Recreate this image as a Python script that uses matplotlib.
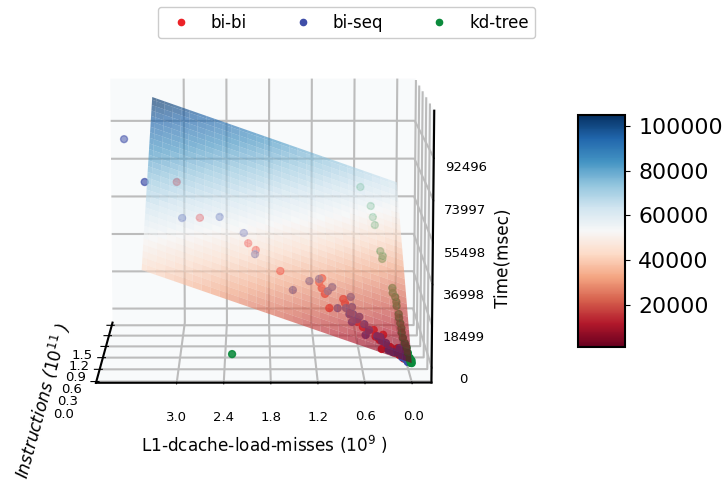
import numpy as np
import matplotlib
matplotlib.use('Agg')
import matplotlib.pyplot as plt
from matplotlib.colors import to_rgba
from matplotlib.lines import Line2D

plt.rcParams['grid.linewidth'] = 1.5
plt.rcParams['grid.color'] = '#bcbcbc'

x_ticks = [0.0, 0.6, 1.2, 1.8, 2.4, 3.0]
y_ticks = [0.0, 0.3, 0.6, 0.9, 1.2, 1.5]
z_ticks = [0, 18499, 36998, 55498, 73997, 92496]
cbar_ticks = [20000, 40000, 60000, 80000, 100000]

# fitted plane: time = c0 + c1 * misses + c2 * instructions
surf_x = [0.0, 3.44]
surf_y = [0.0, 1.55]
plane = [1200.0, 12090.0, 39730.0]

names = ['bi-bi', 'bi-seq', 'kd-tree']
colors = ['#ec2227', '#3f4ea8', '#0b8a3c']

bibi_x = [3.05, 2.73, 2.09, 1.99, 1.67, 1.12, 1.16, 1.13, 1.09, 1.04, 0.85, 0.83, 0.77, 0.61, 0.47, 0.38, 0.35, 0.40,
          0.17, 0.15, 0.27, 0.07, 0.68, 0.55, 0.45, 0.30, 0.22, 0.10]
bibi_y = [0.84, 0.60, 0.52, 0.49, 0.38, 0.44, 0.40, 0.36, 0.32, 0.21, 0.33, 0.30, 0.23, 0.16, 0.16, 0.03, 0.15, 0.10,
          0.08, 0.03, 0.07, 0.02, 0.18, 0.14, 0.12, 0.07, 0.05, 0.02]
bibi_z = [71500, 57900, 47300, 44600, 36600, 32400, 31200, 29100, 27100, 22400, 24600, 23200, 19800, 14700, 13300, 7000,
          11300, 9900, 6500, 4200, 7200, 3000, 16700, 13400, 11000, 6700, 5100, 2900]

biseq_x = [3.78, 3.47, 2.96, 2.47, 2.15, 2.00, 1.51, 1.29, 1.16, 1.05, 0.99, 0.75, 0.93, 0.82, 0.74, 0.78, 0.73, 0.75,
           0.65, 0.68, 0.59, 0.58, 0.53, 0.43, 0.39, 0.37, 0.32, 0.29, 0.24, 0.14, 0.12, 0.06, 0.05, 0.14, 0.18, 0.10,
           0.08, 0.03, 0.02]
biseq_y = [1.06, 0.74, 0.54, 0.67, 0.60, 0.45, 0.26, 0.38, 0.43, 0.35, 0.40, 0.37, 0.24, 0.26, 0.29, 0.22, 0.23, 0.17,
           0.23, 0.20, 0.18, 0.10, 0.15, 0.12, 0.12, 0.10, 0.09, 0.04, 0.04, 0.06, 0.02, 0.01, 0.00, 0.09, 0.05, 0.03,
           0.02, 0.01, 0.00]
biseq_z = [89100, 72700, 58600, 57400, 50900, 43300, 29800, 32000, 32200, 27900, 29000, 24900, 21900, 21600, 21600,
           19500, 19300, 16800, 18100, 17500, 15600, 12100, 13500, 11200, 10800, 9400, 8600, 6300, 5500, 5200, 3500,
           2400, 1700, 6400, 5000, 3600, 2800, 1900, 1500]

kdtree_x = [0.53, 0.40, 0.38, 0.36, 0.31, 0.28, 0.29, 0.18, 0.18, 0.15, 0.14, 0.14, 0.12, 0.12, 0.11, 0.10, 0.10, 0.09,
            0.07, 0.05, 0.04, 0.02, 0.01, 2.30, 0.02, 0.00, 0.01, 0.00]
kdtree_y = [1.38, 1.24, 1.14, 1.07, 0.85, 0.82, 0.79, 0.57, 0.53, 0.50, 0.46, 0.43, 0.37, 0.33, 0.29, 0.25, 0.22, 0.18,
            0.14, 0.11, 0.07, 0.04, 0.00, 0.28, 0.02, 0.02, 0.01, 0.00]
kdtree_z = [62500, 55100, 51100, 48200, 38900, 37100, 36100, 25900, 24200, 22800, 21200, 19800, 17100, 15900, 14200,
            12600, 11000, 9400, 7700, 6100, 4500, 2800, 1300, 300, 2200, 2000, 1500, 1200]

series = [(bibi_x, bibi_y, bibi_z), (biseq_x, biseq_y, biseq_z), (kdtree_x, kdtree_y, kdtree_z)]

fig = plt.figure(figsize=(7.23, 4.84), dpi=100)
ax = fig.add_axes([-0.015, 0.025, 0.74, 1.0], projection='3d', computed_zorder=False)
ax.view_init(elev=9, azim=-90.2)
ax.set_box_aspect((4, 3.7, 3.26), zoom=1.017)

# points sit behind the see-through plane, far ones fade out
for (xs, ys, zs), col in zip(series, colors):
    fade = 1 - 0.45 * np.array(ys)
    rgba = [to_rgba(col, a) for a in fade]
    ax.scatter(xs, ys, zs, s=25, c=rgba, zorder=1, depthshade=False)

xx, yy = np.meshgrid(np.linspace(*surf_x, 60), np.linspace(*surf_y, 60))
zz = plane[0] + plane[1] * xx + plane[2] * yy
ax.plot_surface(xx, yy, zz, cmap='RdBu', vmin=1200, vmax=104900, alpha=0.65,
                linewidth=0, edgecolor='none', antialiased=True, zorder=2)

ax.set_xlim(-0.25, 4.03)
ax.set_ylim(-0.03, 1.58)
ax.set_zlim(-7000, 113000)
ax.invert_xaxis()
ax.set_xticks(x_ticks)
ax.set_yticks(y_ticks)
ax.set_zticks(z_ticks)
ax.zaxis.set_ticks_position('lower')
ax.zaxis.set_label_position('lower')
ax.tick_params(labelsize=9.5)
ax.tick_params(axis='x', pad=7)
ax.tick_params(axis='y', pad=10)
ax.tick_params(axis='z', pad=8)
ax.set_xlabel('L1-dcache-load-misses ($10^9$ )', fontsize=12.2, labelpad=12)
ax.set_ylabel('Instructions ($10^{11}$ )', fontsize=12.2, labelpad=15, style='italic')
ax.set_zlabel('Time(msec)', fontsize=12.2, labelpad=14)
for axis in (ax.xaxis, ax.yaxis, ax.zaxis):
    axis.set_pane_color('#f8fafb')
    axis.pane.set_edgecolor('none')
    axis.line.set_linewidth(1.5)
    axis.line.set_color('black')

cax = fig.add_axes([578 / 723, 1 - 347 / 484, 47 / 723, 232 / 484])
sm = plt.cm.ScalarMappable(norm=plt.Normalize(1200, 104900), cmap='RdBu')
cb = fig.colorbar(sm, cax=cax, ticks=cbar_ticks)
cb.ax.tick_params(labelsize=15.8, pad=6)
cb.outline.set_linewidth(1.5)

handles = [Line2D([], [], ls='none', marker='o', ms=4.5, color=c) for c in colors]
fig.legend(handles, names, loc='center', bbox_to_anchor=(346.5 / 723, 1 - 22.5 / 484), ncol=3, fontsize=12,
           handlelength=2, handletextpad=0.8, columnspacing=2.35, framealpha=1, edgecolor='#cccccc')

fig.savefig('out.png', dpi=100)
